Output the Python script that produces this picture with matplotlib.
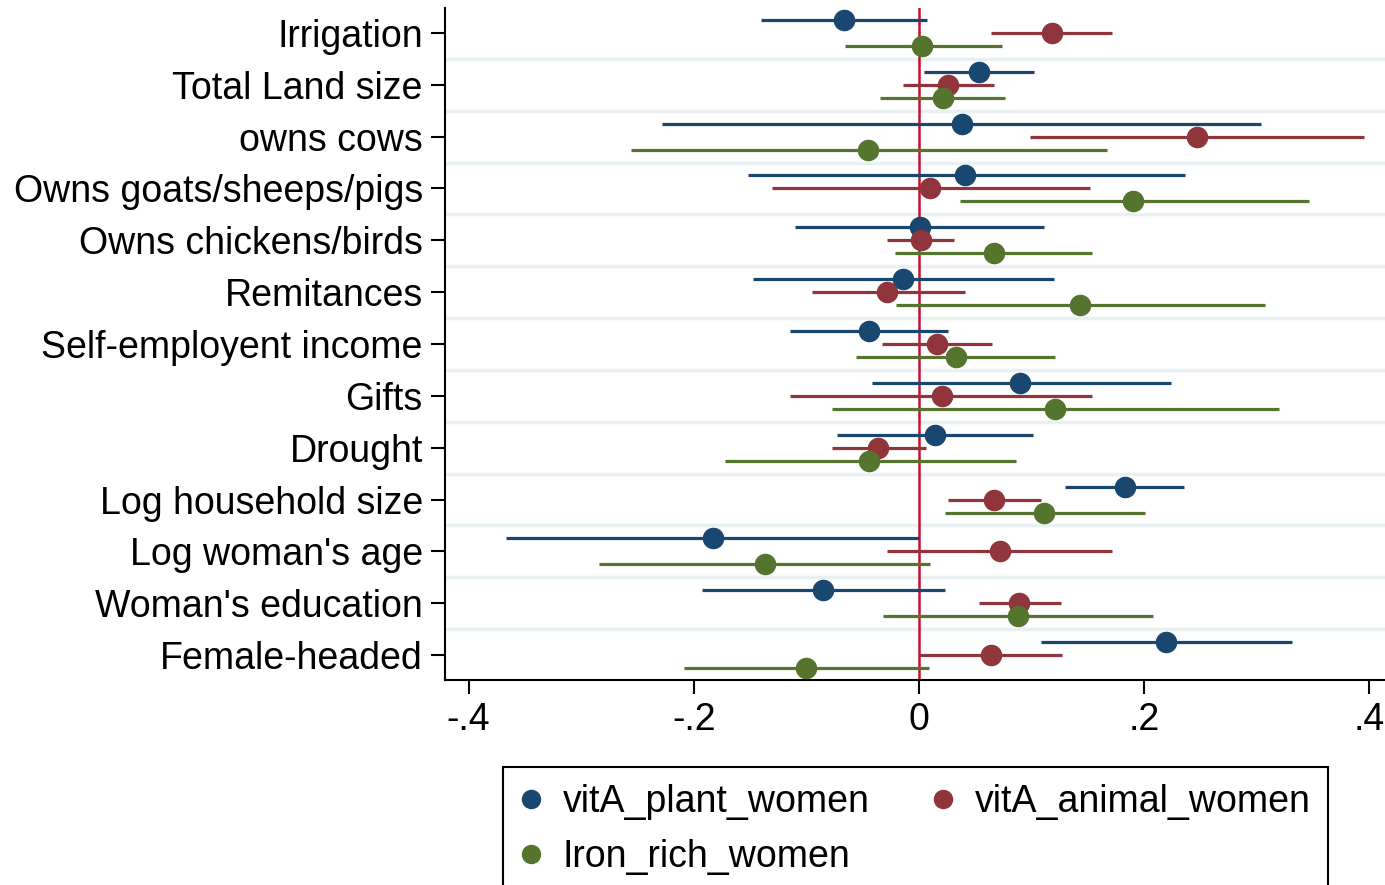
import numpy as np
import matplotlib.pyplot as plt

plt.rcParams['font.family'] = ['Liberation Sans', 'DejaVu Sans']

# Row labels (top to bottom)
labels = ["Irrigation", "Total Land size", "owns cows", "Owns goats/sheeps/pigs",
          "Owns chickens/birds", "Remitances", "Self-employent income", "Gifts",
          "Drought", "Log household size", "Log woman's age", "Woman's education",
          "Female-headed"]

# vitA_plant_women: estimate, lower, upper
plant_b = [-0.067, 0.053, 0.038, 0.041, 0.001, -0.014, -0.044, 0.090, 0.014, 0.183, -0.183, -0.085, 0.219]
plant_lo = [-0.140, 0.004, -0.228, -0.152, -0.110, -0.147, -0.115, -0.042, -0.073, 0.130, -0.367, -0.193, 0.108]
plant_hi = [0.007, 0.102, 0.304, 0.236, 0.111, 0.120, 0.026, 0.224, 0.101, 0.235, 0.000, 0.023, 0.331]

# vitA_animal_women
animal_b = [0.118, 0.026, 0.247, 0.010, 0.002, -0.028, 0.016, 0.020, -0.036, 0.067, 0.072, 0.089, 0.064]
animal_lo = [0.064, -0.014, 0.099, -0.131, -0.028, -0.095, -0.033, -0.115, -0.077, 0.026, -0.028, 0.053, 0.000]
animal_hi = [0.171, 0.067, 0.395, 0.152, 0.031, 0.041, 0.065, 0.154, 0.006, 0.108, 0.171, 0.126, 0.127]

# Iron_rich_women
iron_b = [0.003, 0.021, -0.045, 0.190, 0.067, 0.143, 0.033, 0.121, -0.044, 0.111, -0.137, 0.088, -0.100]
iron_lo = [-0.066, -0.035, -0.256, 0.036, -0.021, -0.020, -0.056, -0.077, -0.172, 0.023, -0.284, -0.032, -0.209]
iron_hi = [0.074, 0.076, 0.167, 0.346, 0.154, 0.307, 0.121, 0.320, 0.086, 0.201, 0.010, 0.208, 0.009]

series = [
    ("vitA_plant_women", plant_b, plant_lo, plant_hi, '#1a476f', -0.25),
    ("vitA_animal_women", animal_b, animal_lo, animal_hi, '#90353b', 0.0),
    ("Iron_rich_women", iron_b, iron_lo, iron_hi, '#55752f', 0.25),
]

fs = 27

fig = plt.figure(figsize=(13.85, 8.85), dpi=100)
ax = fig.add_axes([445/1385, 1-680/885, (1393-445)/1385, 672/885])

y = np.arange(len(labels))

# light separators between rows
for yy in y[:-1] + 0.5:
    ax.axhline(yy, color='#e8f0f2', lw=2.5, zorder=0)

ax.axvline(0, color='#c8102e', lw=1.8, zorder=2)

handles = []
for name, b, lo, hi, col, off in series:
    b = np.array(b); lo = np.array(lo); hi = np.array(hi)
    ax.hlines(y + off, lo, hi, color=col, lw=2.3, zorder=3)
    ax.plot(b, y + off, 'o', color=col, ms=14.5, zorder=4)
    h, = ax.plot([], [], 'o', color=col, ms=13, label=name)
    handles.append(h)

ax.set_xlim(-0.421, 0.421)
ax.set_ylim(len(labels) - 0.52, -0.48)
ax.set_yticks(y)
ax.set_yticklabels(labels, fontsize=fs)
ax.set_xticks([-0.4, -0.2, 0, 0.2, 0.4])
ax.set_xticklabels(['-.4', '-.2', '0', '.2', '.4'], fontsize=fs)

for s in ['top', 'right']:
    ax.spines[s].set_visible(False)
for s in ['left', 'bottom']:
    ax.spines[s].set_linewidth(1.5)
ax.tick_params(axis='both', length=10, width=1.5, pad=6)

# row-major order: plant, animal on row 1; iron on row 2
leg = fig.legend(handles=[handles[0], handles[2], handles[1]], ncol=2, loc='upper left',
                 bbox_to_anchor=(503/1385, 1-767/885),
                 fontsize=fs, frameon=True, fancybox=False, framealpha=1,
                 edgecolor='black', handlelength=0.6, handletextpad=0.55,
                 borderpad=0.45, labelspacing=0.5, columnspacing=1.65,
                 borderaxespad=0)
leg.get_frame().set_linewidth(1.5)

fig.savefig('out.png', dpi=100)
